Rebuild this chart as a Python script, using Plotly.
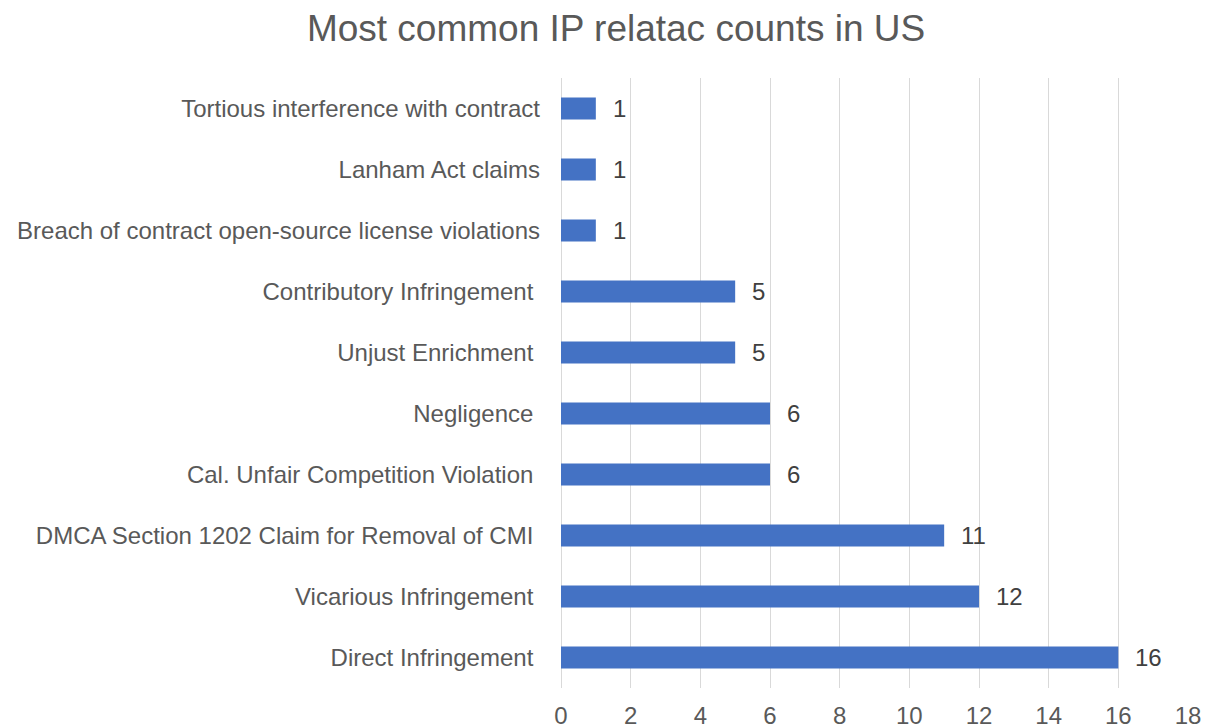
import plotly.graph_objects as go

categories = [
    "Direct Infringement\u00a0",
    "Vicarious Infringement\u00a0",
    "DMCA Section 1202 Claim for Removal of CMI\u00a0",
    "Cal. Unfair Competition Violation\u00a0",
    "Negligence\u00a0",
    "Unjust Enrichment\u00a0",
    "Contributory Infringement\u00a0",
    "Breach of contract open-source license violations",
    "Lanham Act claims",
    "Tortious interference with contract",
]
counts = [16, 12, 11, 6, 6, 5, 5, 1, 1, 1]
x_ticks = list(range(0, 19, 2))

FONT = "Liberation Sans, Arial, sans-serif"

fig = go.Figure()
fig.add_trace(go.Bar(
    y=categories, x=counts, orientation="h",
    marker=dict(color="#4472C4", line=dict(width=0)),
    width=0.36,
))
for c, v in zip(categories, counts):
    fig.add_annotation(x=v, y=c, text=str(v), showarrow=False,
                       xanchor="left", xshift=15,
                       font=dict(family=FONT, size=24, color="#404040"))

fig.update_layout(
    width=1210, height=728,
    margin=dict(l=553, r=30, t=70, b=48, autoexpand=False),
    paper_bgcolor="white", plot_bgcolor="white",
    showlegend=False,
    title=dict(text="Most common IP relatac counts in US", x=0.5025, xanchor="center",
               y=0.972, yanchor="middle",
               font=dict(family=FONT, size=37, color="#595959")),
    font=dict(family=FONT, color="#595959"),
)
fig.update_xaxes(range=[0, 18], tickvals=x_ticks, showgrid=True, gridcolor="#D9D9D9",
                 gridwidth=1, zeroline=True, zerolinecolor="#D9D9D9", zerolinewidth=1,
                 showline=False, tickfont=dict(size=24, color="#595959"),
                 ticklabelstandoff=11, fixedrange=True, automargin=False)
fig.update_yaxes(showgrid=False, zeroline=False, showline=False,
                 tickfont=dict(size=24, color="#595959"), ticklabelstandoff=20,
                 categoryorder="array", categoryarray=categories, automargin=False)

fig.write_html("out.html")
